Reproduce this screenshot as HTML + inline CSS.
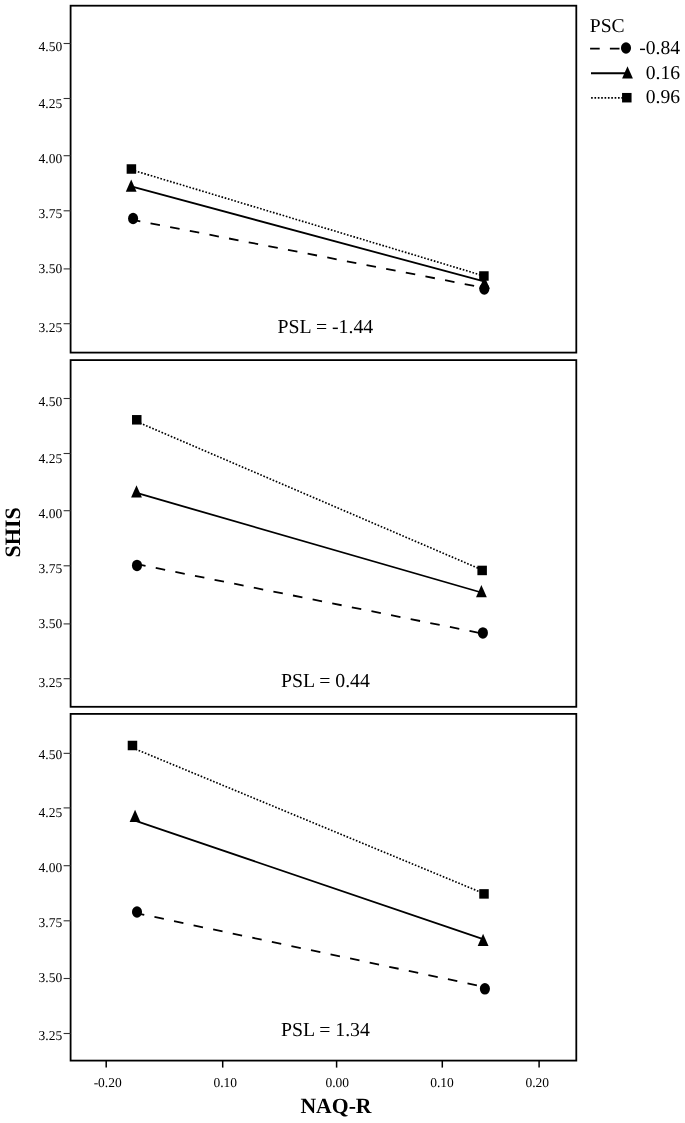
<!DOCTYPE html><html><head><meta charset="utf-8"><style>html,body{margin:0;padding:0;background:#fff;}svg{display:block;}text{text-rendering:geometricPrecision;font-family:"Liberation Serif", "Times New Roman", serif;fill:#000;}</style></head><body>
<svg width="685" height="1123" viewBox="0 0 685 1123">
<rect width="685" height="1123" fill="#fff"/>
<rect x="70.6" y="5.7" width="505.70" height="346.90" fill="none" stroke="#000" stroke-width="1.8"/>
<rect x="70.6" y="360.1" width="505.70" height="346.70" fill="none" stroke="#000" stroke-width="1.8"/>
<rect x="70.6" y="713.9" width="505.70" height="346.70" fill="none" stroke="#000" stroke-width="1.8"/>
<g stroke="#333" stroke-width="1.1">
<line x1="63.6" y1="43.5" x2="70.6" y2="43.5"/>
<line x1="63.6" y1="98.5" x2="70.6" y2="98.5"/>
<line x1="63.6" y1="155.7" x2="70.6" y2="155.7"/>
<line x1="63.6" y1="210.8" x2="70.6" y2="210.8"/>
<line x1="63.6" y1="268.9" x2="70.6" y2="268.9"/>
<line x1="63.6" y1="323.7" x2="70.6" y2="323.7"/>
<line x1="63.6" y1="398.5" x2="70.6" y2="398.5"/>
<line x1="63.6" y1="453.5" x2="70.6" y2="453.5"/>
<line x1="63.6" y1="510.7" x2="70.6" y2="510.7"/>
<line x1="63.6" y1="565.8" x2="70.6" y2="565.8"/>
<line x1="63.6" y1="623.9" x2="70.6" y2="623.9"/>
<line x1="63.6" y1="678.7" x2="70.6" y2="678.7"/>
<line x1="63.6" y1="753.35" x2="70.6" y2="753.35"/>
<line x1="63.6" y1="807.9" x2="70.6" y2="807.9"/>
<line x1="63.6" y1="865.7" x2="70.6" y2="865.7"/>
<line x1="63.6" y1="920.8" x2="70.6" y2="920.8"/>
<line x1="63.6" y1="978.5" x2="70.6" y2="978.5"/>
<line x1="63.6" y1="1033.5" x2="70.6" y2="1033.5"/>
</g>
<g font-size="13.5" text-anchor="end">
<text x="62.2" y="50.50">4.50</text>
<text x="62.2" y="108.45">4.25</text>
<text x="62.2" y="163.45">4.00</text>
<text x="62.2" y="218.45">3.75</text>
<text x="62.2" y="273.45">3.50</text>
<text x="62.2" y="331.70">3.25</text>
<text x="62.2" y="405.50">4.50</text>
<text x="62.2" y="463.45">4.25</text>
<text x="62.2" y="518.45">4.00</text>
<text x="62.2" y="573.45">3.75</text>
<text x="62.2" y="628.45">3.50</text>
<text x="62.2" y="686.70">3.25</text>
<text x="62.2" y="758.50">4.50</text>
<text x="62.2" y="816.70">4.25</text>
<text x="62.2" y="871.90">4.00</text>
<text x="62.2" y="926.90">3.75</text>
<text x="62.2" y="981.90">3.50</text>
<text x="62.2" y="1040.20">3.25</text>
</g>
<g stroke="#000" stroke-width="1.5">
<line x1="106.2" y1="1060.6" x2="106.2" y2="1067.6"/>
<line x1="222.7" y1="1060.6" x2="222.7" y2="1067.6"/>
<line x1="336.6" y1="1060.6" x2="336.6" y2="1067.6"/>
<line x1="442.3" y1="1060.6" x2="442.3" y2="1067.6"/>
<line x1="539.1" y1="1060.6" x2="539.1" y2="1067.6"/>
</g>
<g font-size="13.5" text-anchor="middle">
<text x="107.7" y="1086.8">-0.20</text>
<text x="225.2" y="1086.8">0.10</text>
<text x="337.3" y="1086.8">0.00</text>
<text x="442.0" y="1086.8">0.10</text>
<text x="537.3" y="1086.8">0.20</text>
</g>
<text x="336" y="1113.4" font-size="21.7" font-weight="bold" text-anchor="middle">NAQ-R</text>
<text transform="translate(19.9,532.3) rotate(-90)" font-size="22" font-weight="bold" text-anchor="middle">SHIS</text>
<line x1="131.4" y1="169.77" x2="483.9" y2="275.96" stroke="#000" stroke-width="1.65" stroke-dasharray="1.65 1.71"/>
<line x1="131.2" y1="186.41" x2="484.0" y2="281.42" stroke="#000" stroke-width="1.8"/>
<line x1="133.1" y1="219.95" x2="484.5" y2="287.85" stroke="#000" stroke-width="1.8" stroke-dasharray="9.6 10.4" stroke-dashoffset="2.26"/>
<g fill="#000">
<ellipse cx="133.10" cy="218.50" rx="5.05" ry="5.77"/>
<ellipse cx="484.30" cy="288.90" rx="5.05" ry="5.77"/>
<polygon points="131.20,179.50 136.60,191.80 125.80,191.80"/>
<polygon points="484.50,276.55 489.90,288.85 479.10,288.85"/>
<rect x="126.65" y="164.25" width="9.5" height="9.5"/>
<rect x="479.15" y="271.25" width="9.5" height="9.5"/>
</g>
<text x="325.4" y="332.8" font-size="19.8" text-anchor="middle">PSL = -1.44</text>
<line x1="136.8" y1="421.67" x2="482.3" y2="570.0" stroke="#000" stroke-width="1.65" stroke-dasharray="1.65 1.71"/>
<line x1="136.6" y1="492.92" x2="481.4" y2="592.5" stroke="#000" stroke-width="1.8"/>
<line x1="137.0" y1="564.2" x2="482.9" y2="633.6" stroke="#000" stroke-width="1.8" stroke-dasharray="9.6 10.4" stroke-dashoffset="0.89"/>
<g fill="#000">
<ellipse cx="137.00" cy="565.44" rx="5.05" ry="5.77"/>
<ellipse cx="482.90" cy="632.90" rx="5.05" ry="5.77"/>
<polygon points="136.50,485.25 141.90,497.55 131.10,497.55"/>
<polygon points="481.40,584.90 486.80,597.20 476.00,597.20"/>
<rect x="132.01" y="415.05" width="9.5" height="9.5"/>
<rect x="477.40" y="565.69" width="9.5" height="9.5"/>
</g>
<text x="325.4" y="686.5" font-size="19.8" text-anchor="middle">PSL = 0.44</text>
<line x1="132.4" y1="747.82" x2="484.0" y2="893.6" stroke="#000" stroke-width="1.65" stroke-dasharray="1.65 1.71"/>
<line x1="135.0" y1="820.62" x2="483.1" y2="939.04" stroke="#000" stroke-width="1.8"/>
<line x1="137.0" y1="913.29" x2="484.9" y2="987.04" stroke="#000" stroke-width="1.8" stroke-dasharray="9.6 10.4" stroke-dashoffset="2.17"/>
<g fill="#000">
<ellipse cx="137.00" cy="912.00" rx="5.05" ry="5.77"/>
<ellipse cx="484.90" cy="988.80" rx="5.05" ry="5.77"/>
<polygon points="135.05,809.65 140.45,821.95 129.65,821.95"/>
<polygon points="483.10,933.75 488.50,946.05 477.70,946.05"/>
<rect x="127.72" y="740.75" width="9.5" height="9.5"/>
<rect x="479.25" y="889.15" width="9.5" height="9.5"/>
</g>
<text x="325.4" y="1036.4" font-size="19.8" text-anchor="middle">PSL = 1.34</text>
<text x="589.8" y="31.9" font-size="19.6">PSC</text>
<line x1="590.1" y1="48.6" x2="626" y2="48.6" stroke="#000" stroke-width="1.8" stroke-dasharray="9.6 10.2"/>
<ellipse cx="626.00" cy="48.00" rx="5.05" ry="5.77"/>
<line x1="591" y1="73.2" x2="627.5" y2="73.2" stroke="#000" stroke-width="1.9"/>
<polygon points="627.50,66.15 632.90,78.45 622.10,78.45"/>
<line x1="591.1" y1="97.8" x2="626.8" y2="97.8" stroke="#000" stroke-width="1.65" stroke-dasharray="1.65 1.71"/>
<rect x="622.05" y="92.95" width="9.5" height="9.5"/>
<g font-size="19.6" text-anchor="end">
<text x="680" y="53.7">-0.84</text>
<text x="680" y="78.5">0.16</text>
<text x="680" y="103.3">0.96</text>
</g>
</svg></body></html>
